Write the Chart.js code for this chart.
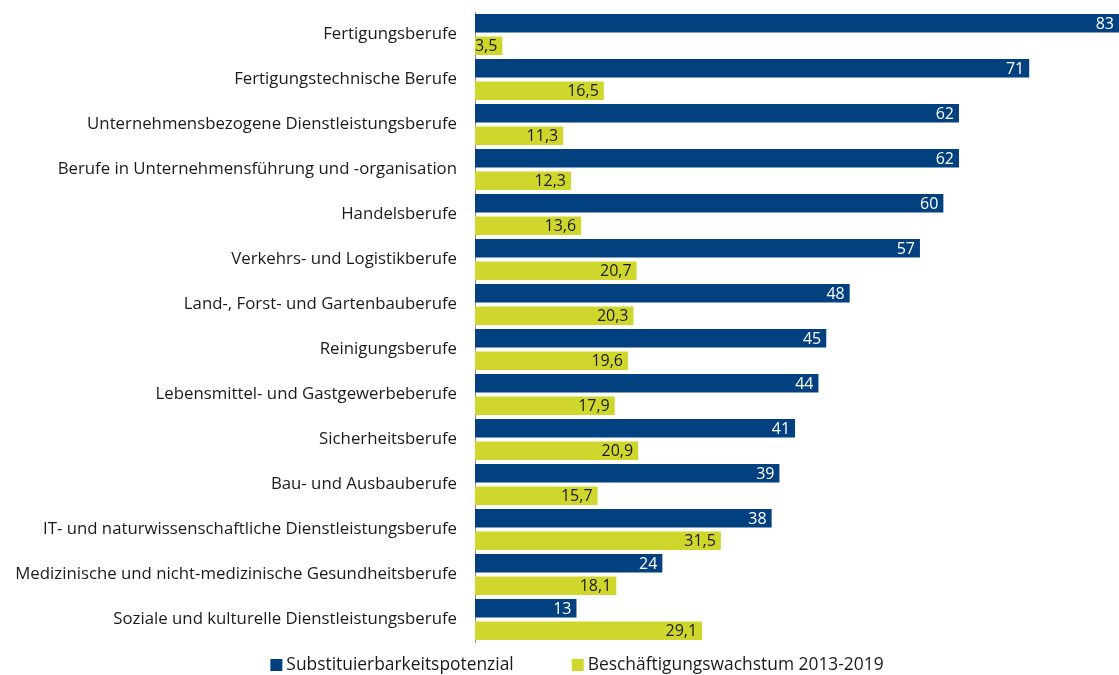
<!DOCTYPE html>
<html>
<head>
<meta charset="utf-8">
<script src="https://cdn.jsdelivr.net/npm/chart.js@4"></script>
<style>
  html, body { margin: 0; padding: 0; background: #fff; }
  #wrap { width: 1119px; height: 675px; position: relative; }
</style>
</head>
<body>
<div id="wrap"><canvas id="chart"></canvas></div>
<script>
// Berufssegmente
const categories = [
    'Fertigungsberufe',
    'Fertigungstechnische Berufe',
    'Unternehmensbezogene Dienstleistungsberufe',
    'Berufe in Unternehmensführung und -organisation',
    'Handelsberufe',
    'Verkehrs- und Logistikberufe',
    'Land-, Forst- und Gartenbauberufe',
    'Reinigungsberufe',
    'Lebensmittel- und Gastgewerbeberufe',
    'Sicherheitsberufe',
    'Bau- und Ausbauberufe',
    'IT- und naturwissenschaftliche Dienstleistungsberufe',
    'Medizinische und nicht-medizinische Gesundheitsberufe',
    'Soziale und kulturelle Dienstleistungsberufe'
];
const substituierbarkeit = [83, 71, 62, 62, 60, 57, 48, 45, 44, 41, 39, 38, 24, 13];
const wachstum = [3.5, 16.5, 11.3, 12.3, 13.6, 20.7, 20.3, 19.6, 17.9, 20.9, 15.7, 31.5, 18.1, 29.1];

const BLUE = '#02407f';
const YELLOW = '#cfd72c';
const FONT = '"Open Sans", sans-serif';

// value labels inside the bar end
const barLabels = {
    id: 'barLabels',
    afterDatasetsDraw(chart) {
        const c = chart.ctx;
        const area = chart.chartArea;
        c.save();
        c.font = '16px ' + FONT;
        c.textAlign = 'right';
        c.textBaseline = 'middle';
        chart.data.datasets.forEach((ds, i) => {
            const meta = chart.getDatasetMeta(i);
            meta.data.forEach((bar, j) => {
                const v = ds.data[j];
                const txt = Number.isInteger(v) ? String(v) : v.toFixed(1).replace('.', ',');
                const x = Math.min(bar.x, area.right) - 5;
                c.fillStyle = i === 0 ? '#ffffff' : '#1a1a1a';
                c.fillText(txt, x, bar.y + 1);
            });
        });
        c.restore();
    }
};

// legend below the plot, wider gap than the built-in one allows
const bottomLegend = {
    id: 'bottomLegend',
    afterDraw(chart) {
        const c = chart.ctx;
        const box = 12, gap = 58, textGap = 4;
        c.save();
        c.font = '17.4px ' + FONT;
        c.textBaseline = 'middle';
        c.textAlign = 'left';
        const items = chart.data.datasets.map(ds => ({
            text: ds.label, color: ds.backgroundColor, w: c.measureText(ds.label).width
        }));
        const total = items.reduce((s, it) => s + box + textGap + it.w, 0) + gap * (items.length - 1);
        let x = 577 - total / 2;
        const y = 665;
        items.forEach(it => {
            c.fillStyle = it.color;
            c.fillRect(x, y - box / 2, box, box);
            c.fillStyle = '#1a1a1a';
            c.fillText(it.text, x + box + textGap, y);
            x += box + textGap + it.w + gap;
        });
        c.restore();
    }
};

const ctx = document.getElementById('chart').getContext('2d');
const chart = new Chart(ctx, {
    type: 'bar',
    data: {
        labels: categories,
        datasets: [{
            label: 'Substituierbarkeitspotenzial',
            data: substituierbarkeit,
            backgroundColor: BLUE,
            borderWidth: 0,
            categoryPercentage: 1.0,
            barPercentage: 0.82
        }, {
            label: 'Beschäftigungswachstum 2013-2019',
            data: wachstum,
            backgroundColor: YELLOW,
            borderWidth: 0,
            categoryPercentage: 1.0,
            barPercentage: 0.82
        }]
    },
    options: {
        indexAxis: 'y',
        responsive: true,
        maintainAspectRatio: false,
        animation: false,
        layout: { padding: { top: 12, right: 0, bottom: 33, left: 0 } },
        scales: {
            x: {
                min: 0,
                max: 82.5,
                display: false,
                grid: { display: false }
            },
            y: {
                grid: { display: false, drawTicks: false },
                border: { display: true, color: '#8c8c8c', width: 1 },
                afterFit(scale) {
                    scale.width = 475;
                    scale.paddingTop = 0;
                    scale.paddingBottom = 0;
                },
                ticks: {
                    color: '#1a1a1a',
                    padding: 18,
                    autoSkip: false,
                    font: { family: FONT, size: 16.8 }
                }
            }
        },
        plugins: {
            legend: { display: false },
            tooltip: { enabled: false }
        }
    },
    plugins: [barLabels, bottomLegend]
});
</script>
</body>
</html>
